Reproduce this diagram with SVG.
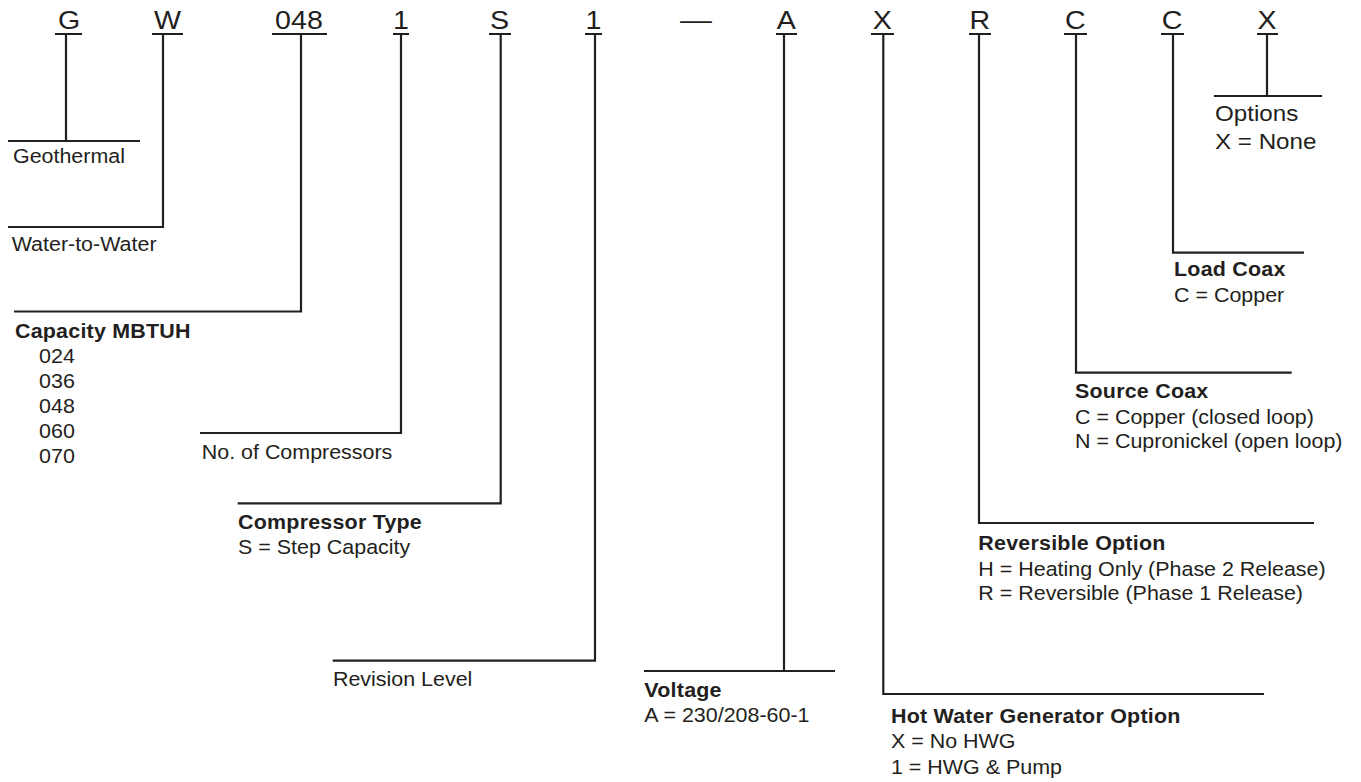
<svg xmlns="http://www.w3.org/2000/svg" width="1361" height="782" viewBox="0 0 1361 782">
<style>
text{font-family:"Liberation Sans",Arial,Helvetica,sans-serif;fill:#231f20}
.big{font-size:26px;text-anchor:middle}
.t{font-size:19.5px}
.b{font-size:19.5px;font-weight:bold;letter-spacing:0.2px}
.o{font-size:22px}
.ln{stroke:#231f20;stroke-width:2.2;fill:none}
</style>
<rect width="1361" height="782" fill="#ffffff"/>
<g id="connectors" class="ln">
<path d="M66,34V141M8,141H140"/>
<path d="M163,34V227H8"/>
<path d="M301,34V311.5H14"/>
<path d="M401,34V433H200"/>
<path d="M500.7,34V503.3H237.7"/>
<path d="M595,34V660.7H332.7"/>
<path d="M784,34V671M644,671H835"/>
<path d="M883.3,34V694H1264"/>
<path d="M979,34V523H1314"/>
<path d="M1076,34V372.7H1291.7"/>
<path d="M1173,34V252.7H1304"/>
<path d="M1267,34V96M1214,96H1322"/>
</g>
<g id="code">
<g class="ln">
<path d="M55,34H82M152,34H183M272,34H327M393,34H409M489,34H511M585,34H602M776,34H797M871,34H894M969,34H991M1064,34H1087M1161,34H1184M1257,34H1278"/>
</g>
<g transform="scale(1.1 1)">
<text class="big" x="62.9" y="29">G</text>
<text class="big" x="152.3" y="29">W</text>
<text class="big" x="271.8" y="29">048</text>
<text class="big" x="364.5" y="29">1</text>
<text class="big" x="454.1" y="29">S</text>
<text class="big" x="539.4" y="29">1</text>
<text style="font-size:26px" x="618.2" y="29" textLength="29" lengthAdjust="spacingAndGlyphs">—</text>
<text class="big" x="714.9" y="29">A</text>
<text class="big" x="802.2" y="29">X</text>
<text class="big" x="890.7" y="29">R</text>
<text class="big" x="977.5" y="29">C</text>
<text class="big" x="1065.6" y="29">C</text>
<text class="big" x="1151.8" y="29">X</text>
</g>
</g>
<g transform="scale(1.1 1)">
<g id="geothermal"><text class="t" x="11.8" y="163">Geothermal</text></g>
<g id="water"><text class="t" x="10.6" y="251.5">Water-to-Water</text></g>
<g id="capacity">
<text class="b" x="13.6" y="338">Capacity MBTUH</text>
<text class="t" x="35.5" y="363">024</text>
<text class="t" x="35.5" y="388">036</text>
<text class="t" x="35.5" y="413">048</text>
<text class="t" x="35.5" y="438">060</text>
<text class="t" x="35.5" y="463">070</text>
</g>
<g id="compressors"><text class="t" x="183.4" y="459">No. of Compressors</text></g>
<g id="comptype">
<text class="b" x="216.4" y="529">Compressor Type</text>
<text class="t" x="216.4" y="554">S = Step Capacity</text>
</g>
<g id="revision"><text class="t" x="302.7" y="686.5">Revision Level</text></g>
<g id="voltage">
<text class="b" x="585.8" y="697">Voltage</text>
<text class="t" x="585.8" y="722.5">A = 230/208-60-1</text>
</g>
<g id="hwg">
<text class="b" x="810" y="722.7">Hot Water Generator Option</text>
<text class="t" x="810" y="748">X = No HWG</text>
<text class="t" x="810" y="774">1 = HWG &amp; Pump</text>
</g>
<g id="reversible">
<text class="b" x="889.4" y="550">Reversible Option</text>
<text class="t" x="889.4" y="576">H = Heating Only (Phase 2 Release)</text>
<text class="t" x="889.4" y="600.5">R = Reversible (Phase 1 Release)</text>
</g>
<g id="sourcecoax">
<text class="b" x="977.3" y="398.3">Source Coax</text>
<text class="t" x="977.3" y="424">C = Copper (closed loop)</text>
<text class="t" x="977.3" y="448.5">N = Cupronickel (open loop)</text>
</g>
<g id="loadcoax">
<text class="b" x="1067.3" y="276.5">Load Coax</text>
<text class="t" x="1067.3" y="301.7">C = Copper</text>
</g>
<g id="options">
<text class="o" x="1104.5" y="121">Options</text>
<text class="o" x="1104.5" y="149">X = None</text>
</g>
</g>
</svg>
